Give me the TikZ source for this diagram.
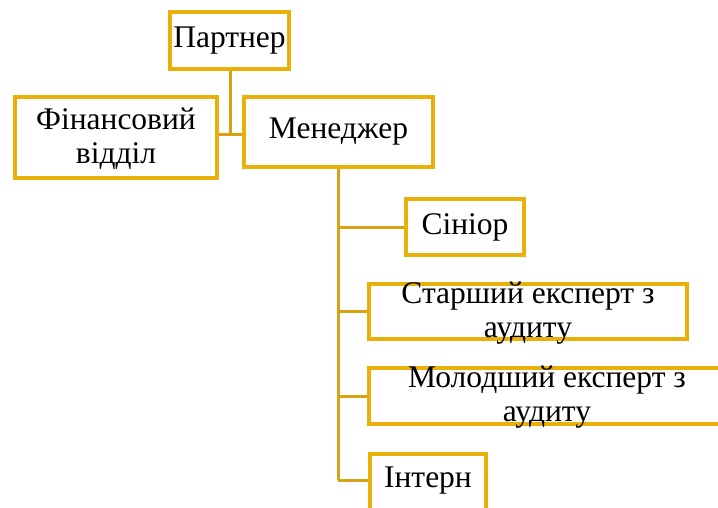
\documentclass[tikz,border=0pt]{standalone}
\usepackage{fontspec}
\setmainfont{Liberation Serif}
\definecolor{gold}{RGB}{232,176,8}
\definecolor{goldline}{RGB}{215,162,20}
\tikzset{
  box/.style={draw=gold, line width=4pt, fill=white, inner sep=0pt},
  txt/.style={inner sep=0pt, align=center, font=\fontsize{31.5}{34}\selectfont},
  conn/.style={draw=goldline, line width=3pt}
}
\begin{document}
\begin{tikzpicture}[x=1pt,y=-1pt]
\useasboundingbox (0,0) rectangle (718,508);
\begin{scope}
\clip (0,0) rectangle (718,508);
\coordinate (j1) at (230,135);
\node[box, minimum width=119pt, minimum height=57pt] (partner) at (229.5,40.5) {};
\node[box, minimum width=202pt, minimum height=81pt] (fin) at (116,137.5) {};
\node[box, minimum width=189pt, minimum height=70pt] (man) at (338.5,132) {};
\node[box, minimum width=118pt, minimum height=56pt] (sin) at (465,227) {};
\node[box, minimum width=318pt, minimum height=55pt] (st) at (528,311) {};
\node[box, minimum width=356pt, minimum height=56pt] (mol) at (547,396) {};
\node[box, minimum width=116pt, minimum height=76pt] (int) at (428,492) {};
\draw[conn] (partner.south -| j1) -- (j1);
\draw[conn] (j1) -- (j1 -| fin.east);
\draw[conn] (j1) -- (j1 -| man.west);
\coordinate (m0) at (338,169);
\coordinate (m4) at (338,480);
\draw[conn] (m0) -- (m4);
\draw[conn] (sin.west -| m0) -- (sin.west);
\draw[conn] (st.west -| m0) -- (st.west);
\draw[conn] (mol.west -| m0) -- (mol.west);
\draw[conn] (m4) -- (m4 -| int.west);
\node[txt] (tp) at (partner) {Партнер};
\node[txt] (tf) at (116,139) {Фінансовий\\відділ};
\node[txt] (tm) at (man) {Менеджер};
\node[txt] (ts) at (sin) {Сініор};
\node[txt] (tst) at (528,313) {Старший експерт з\\аудиту};
\node[txt] (tmo) at (547,397) {Молодший експерт з\\аудиту};
\node[txt] (ti) at (428,481) {Інтерн};
\end{scope}
\end{tikzpicture}
\end{document}
